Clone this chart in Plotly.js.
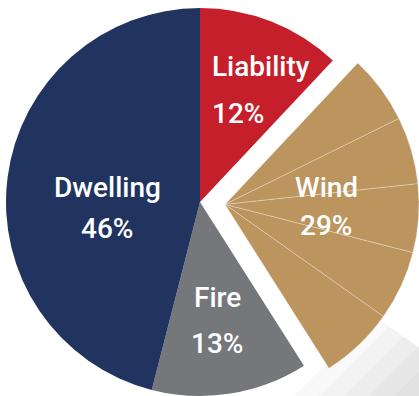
<!DOCTYPE html>
<html>
<head>
<meta charset="utf-8">
<script src="https://cdn.plot.ly/plotly-3.0.1.min.js"></script>
<style>
html,body{margin:0;padding:0;overflow:hidden;background:#fff;width:419px;height:396px;}
#chart{position:absolute;left:0;top:0;width:440px;height:420px;}
</style>
</head>
<body>
<div id="chart"></div>
<script>
// ---- data ----
const categories = ['Liability', 'Wind', 'Fire', 'Dwelling'];
const shares = [12, 29, 13, 46];
const windSegments = [5.7, 5.6, 5.7, 5.8, 6.2]; // Wind split into 5 bands (sum 29)

// ---- styles ----
const colors = {Liability: '#C41F2A', Wind: '#BC945E', Fire: '#76777B', Dwelling: '#21345F'};
const W = 440, H = 420;
function px(x){ return x / W; }
function py(y){ return (H - y) / H; }

const mainTrace = {
  type: 'pie',
  labels: categories,
  values: shares,
  sort: false,
  direction: 'clockwise',
  rotation: 0,
  textinfo: 'none',
  hoverinfo: 'label+percent',
  marker: {
    colors: categories.map(c => c === 'Wind' ? 'rgba(0,0,0,0)' : colors[c]),
    line: {width: 0}
  },
  domain: {x: [px(6), px(394)], y: [py(396), py(8)]},
  showlegend: false
};

const wLabels = [], wValues = [], wColors = [], wLine = [];
categories.forEach((c, i) => {
  if (c === 'Wind') {
    windSegments.forEach((v, j) => {
      wLabels.push('Wind ' + (j + 1)); wValues.push(v);
      wColors.push(colors.Wind); wLine.push('rgba(255,255,255,0.45)');
    });
  } else {
    wLabels.push(c); wValues.push(shares[i]);
    wColors.push('rgba(0,0,0,0)'); wLine.push('rgba(0,0,0,0)');
  }
});
const windTrace = {
  type: 'pie',
  labels: wLabels,
  values: wValues,
  sort: false,
  direction: 'clockwise',
  rotation: 0,
  textinfo: 'none',
  hoverinfo: 'skip',
  marker: {colors: wColors, line: {color: wLine, width: 0.6}},
  domain: {x: [px(31), px(419)], y: [py(398.4), py(10.4)]},
  showlegend: false
};

const labelPos = {
  Liability: {x: 210, y1: 66, y2: 113, anchor: 'left'},
  Wind: {x: 326, y1: 187, y2: 225, anchor: 'center'},
  Fire: {x: 217, y1: 298, y2: 343, anchor: 'center'},
  Dwelling: {x: 107, y1: 188, y2: 228, anchor: 'center'}
};
const font = {family: 'Roboto, Liberation Sans, sans-serif', size: 28, color: '#ffffff', weight: 500};
const annotations = [];
categories.forEach((c, i) => {
  const p = labelPos[c];
  annotations.push({xref: 'paper', yref: 'paper', x: px(p.x), y: py(p.y1), text: c,
    showarrow: false, xanchor: p.anchor, yanchor: 'middle', font: font});
  annotations.push({xref: 'paper', yref: 'paper', x: px(p.x), y: py(p.y2), text: shares[i] + '%',
    showarrow: false, xanchor: p.anchor, yanchor: 'middle', font: font});
});

// soft stepped shadow under the exploded slice
const shapes = [];
[690, 715, 740, 765, 790].forEach(c => {
  const xi = (c - 54) / 1.7, yi = c - xi;
  shapes.push({type: 'path', xref: 'paper', yref: 'paper', layer: 'below',
    path: `M ${px(xi)} ${py(yi)} L ${px(440)} ${py(362)} L ${px(440)} ${py(420)} L ${px(c - 420)} ${py(420)} Z`,
    fillcolor: 'rgba(0,0,0,0.022)', line: {width: 0}});
});

const layout = {
  width: W, height: H,
  margin: {l: 0, r: 0, t: 0, b: 0},
  paper_bgcolor: '#ffffff',
  showlegend: false,
  annotations: annotations,
  shapes: shapes
};

Plotly.newPlot('chart', [mainTrace, windTrace], layout, {displayModeBar: false, staticPlot: true});
</script>
</body>
</html>
